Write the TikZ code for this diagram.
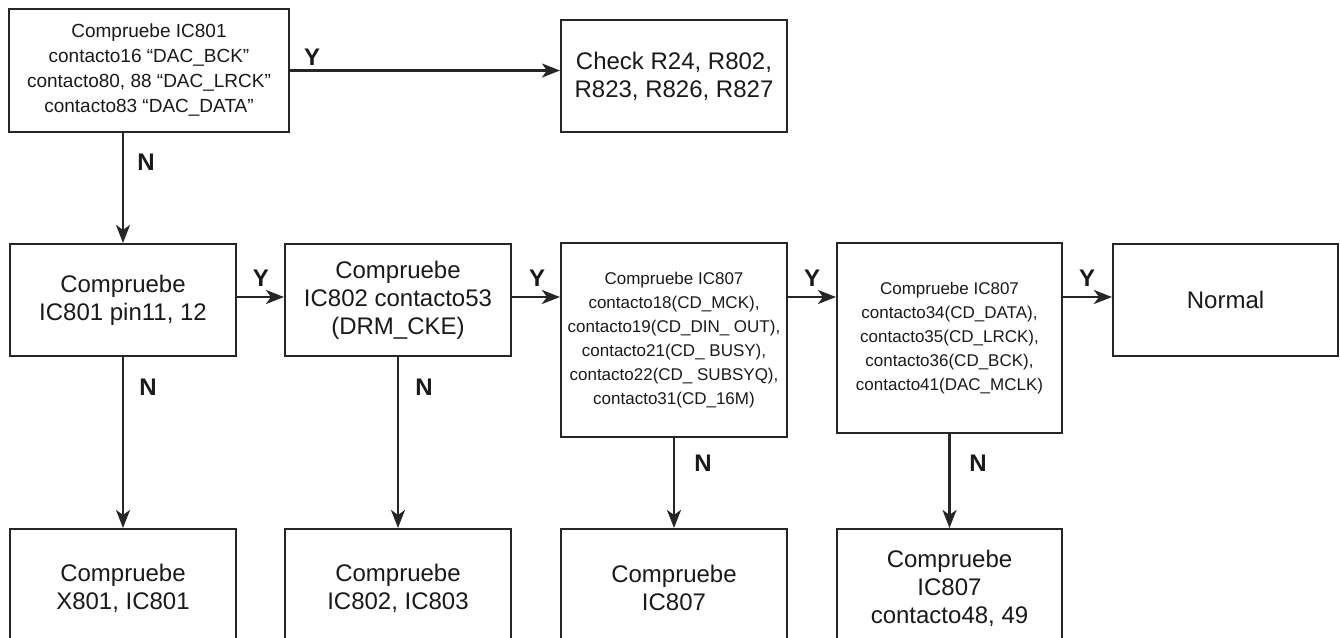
\documentclass[tikz,border=0pt]{standalone}
\usepackage{fontspec}
\setmainfont{Liberation Sans}
\usetikzlibrary{arrows.meta}
\definecolor{linec}{HTML}{262626}
\definecolor{textc}{HTML}{1A1A1A}
\begin{document}
\begin{tikzpicture}[x=1pt,y=-1pt,
  box/.style={draw=linec, line width=2.1pt, inner sep=0pt, align=center,
    text=textc, font=\fontsize{24}{28}\selectfont},
  boxsmall/.style={box, font=\fontsize{19}{25}\selectfont},
  boxtiny/.style={box, font=\fontsize{17}{24}\selectfont},
  yn/.style={inner sep=0pt, text=textc, font=\fontsize{24}{24}\selectfont\bfseries},
  link/.style={draw=linec, line width=2.1pt,
    -{Stealth[length=18pt,width=14pt,inset=5pt]}}]
\useasboundingbox (0,0) rectangle (1340,637);
\clip (0,0) rectangle (1340,637);
\fill[white] (0,0) rectangle (1340,637);

% first decision and its "yes" result
\node[boxsmall, minimum width=280pt, minimum height=123pt] (A) at (149,70.5)
  {Compruebe IC801\\contacto16 “DAC\_BCK”\\contacto80, 88 “DAC\_LRCK”\\contacto83 “DAC\_DATA”};
\node[box, minimum width=226pt, minimum height=112pt] (Chk) at (674,76)
  {Check R24, R802,\\R823, R826, R827};

% middle row of checks
\node[box, minimum width=226pt, minimum height=112pt] (B) at (123,300)
  {Compruebe\\IC801 pin11, 12};
\node[box, minimum width=226pt, minimum height=112pt] (C) at (398,300)
  {Compruebe\\IC802 contacto53\\(DRM\_CKE)};
\node[boxtiny, minimum width=226pt, minimum height=194pt] (D) at (674,340)
  {Compruebe IC807\\contacto18(CD\_MCK),\\contacto19(CD\_DIN\_ OUT),\\contacto21(CD\_ BUSY),\\contacto22(CD\_ SUBSYQ),\\contacto31(CD\_16M)};
\node[boxtiny, minimum width=225pt, minimum height=190pt] (E) at (949.5,338)
  {Compruebe IC807\\contacto34(CD\_DATA),\\contacto35(CD\_LRCK),\\contacto36(CD\_BCK),\\contacto41(DAC\_MCLK)};
\node[box, minimum width=225pt, minimum height=112pt] (Nor) at (1225.5,300)
  {Normal};

% bottom row of "no" results
\node[box, minimum width=226pt, minimum height=118pt] (R1) at (123,588)
  {Compruebe\\X801, IC801};
\node[box, minimum width=226pt, minimum height=118pt] (R2) at (398,588)
  {Compruebe\\IC802, IC803};
\node[box, minimum width=226pt, minimum height=118pt] (R3) at (674,588)
  {Compruebe\\IC807};
\node[box, minimum width=225pt, minimum height=118pt] (R4) at (949.5,588)
  {Compruebe\\IC807\\contacto48, 49};

% connectors
\coordinate (ry) at (0,297);
\draw[link] (A.east) -- (A.east -| Chk.west);
\draw[link] (B.north |- A.south) -- (B.north);
\draw[link] (B.east |- ry) -- (C.west |- ry);
\draw[link] (C.east |- ry) -- (D.west |- ry);
\draw[link] (D.east |- ry) -- (E.west |- ry);
\draw[link] (E.east |- ry) -- (Nor.west |- ry);
\draw[link] (B.south) -- (R1.north);
\draw[link] (C.south) -- (R2.north);
\draw[link] (R3.north |- D.south) -- (R3.north);
\draw[link] (R4.north |- E.south) -- (R4.north);

% branch labels
\node[yn] (yA) at (312,57) {Y};
\node[yn] (nA) at (146,162) {N};
\node[yn] (yB) at (261,278) {Y};
\node[yn] (yC) at (537,278) {Y};
\node[yn] (yD) at (812,278) {Y};
\node[yn] (yE) at (1087,278) {Y};
\node[yn] (nB) at (148,387) {N};
\node[yn] (nC) at (424,387) {N};
\node[yn] (nD) at (703,463) {N};
\node[yn] (nE) at (978,463) {N};
\end{tikzpicture}
\end{document}
